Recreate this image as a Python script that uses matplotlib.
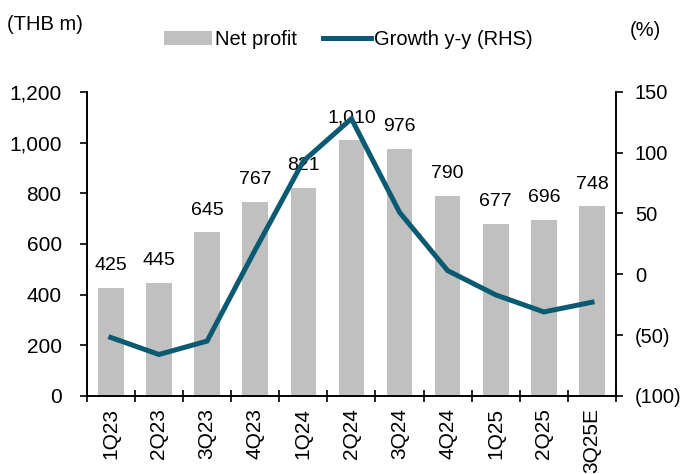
import matplotlib.pyplot as plt
from matplotlib.ticker import FuncFormatter, FixedLocator

plt.rcParams['font.family'] = ['Liberation Sans', 'DejaVu Sans']

quarters = ['1Q23', '2Q23', '3Q23', '4Q23', '1Q24', '2Q24', '3Q24', '4Q24', '1Q25', '2Q25', '3Q25E']
net_profit = [425, 445, 645, 767, 821, 1010, 976, 790, 677, 696, 748]
growth = [-52, -66, -55, 20, 93, 128, 51, 3, -17, -31, -23]

bar_color = '#C0C0C0'
line_color = '#0A5B72'

fig = plt.figure(figsize=(6.83, 4.74), dpi=100)
ax = fig.add_axes([0.127, 0.165, 0.775, 0.641])
ax2 = ax.twinx()

x = list(range(len(quarters)))
bars = ax.bar(x, net_profit, width=0.53, color=bar_color, label='Net profit', zorder=1)
line, = ax2.plot(x, growth, color=line_color, lw=3.6, label='Growth y-y (RHS)',
                 solid_joinstyle='miter', zorder=3)

for xi, v in zip(x, net_profit):
    ax.annotate(f'{v:,}', (xi, v), xytext=(0, 10), textcoords='offset points',
                ha='center', va='bottom', fontsize=14)

ax.set_xlim(-0.5, len(quarters) - 0.5)
ax.set_ylim(0, 1200)
ax.set_yticks(range(0, 1201, 200))
ax.yaxis.set_major_formatter(FuncFormatter(lambda v, p: f'{int(v):,}'))
ax2.set_ylim(-100, 150)
ax2.set_yticks(range(-100, 151, 50))
ax2.yaxis.set_major_formatter(FuncFormatter(lambda v, p: f'({abs(int(v))})' if v < 0 else f'{int(v)}'))

# ticks between categories, labels at centres
ax.xaxis.set_major_locator(FixedLocator([i - 0.5 for i in range(len(quarters) + 1)]))
ax.xaxis.set_minor_locator(FixedLocator(x))
ax.set_xticklabels([''] * (len(quarters) + 1))
ax.set_xticklabels(quarters, minor=True, rotation=90, fontsize=15)
ax.tick_params(axis='x', which='major', direction='inout', length=8.5, width=1.2)
ax.tick_params(axis='x', which='minor', length=0, pad=9)
ax.tick_params(axis='y', direction='out', length=5, width=1.2, labelsize=15, pad=13)
ax2.tick_params(axis='y', direction='out', length=5, width=1.2, labelsize=14.5, pad=8.5)

for a in (ax, ax2):
    a.spines['top'].set_visible(False)
    for s in ('left', 'right', 'bottom'):
        a.spines[s].set_linewidth(1.2)

fig.text(0.01, 0.949, '(THB m)', fontsize=14.5, va='center', ha='left')
fig.text(0.922, 0.935, '(%)', fontsize=14.5, va='center', ha='left')

fig.legend([bars, line], ['Net profit', 'Growth y-y (RHS)'], loc='center',
           bbox_to_anchor=(0.51, 0.916), ncol=2, frameon=False, fontsize=14.5,
           handlelength=2.4, handletextpad=0.15, columnspacing=1.25)

fig.savefig('out.png', dpi=100)
